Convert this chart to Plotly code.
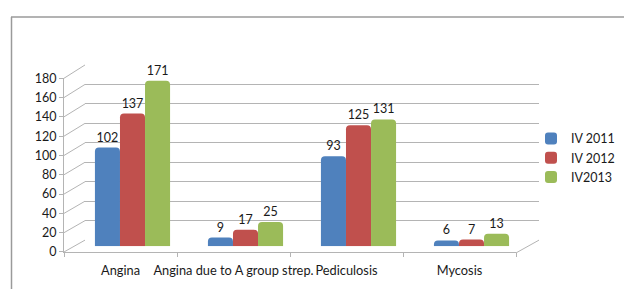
import plotly.graph_objects as go

# ---- data ----
categories = ["Angina", "Angina due to A group strep.", "Pediculosis", "Mycosis"]
iv_2011 = [102, 9, 93, 6]
iv_2012 = [137, 17, 125, 7]
iv_2013 = [171, 25, 131, 13]
series_names = ["IV 2011", "IV 2012", "IV2013"]
y_ticks = [0, 20, 40, 60, 80, 100, 120, 140, 160, 180]

# ---- geometry helpers (pixels -> paper) ----
W, H = 624, 296
def px(x):
    return x / W
def py(y):
    return 1 - y / H

FONT = "Lato"
TXT = "#1a1a1a"
GRID = "#b4b4b4"

colors = ["#4F81BD", "#C0504D", "#9BBB59"]
values = [iv_2011, iv_2012, iv_2013]

fig = go.Figure()
# empty helper traces so the back wall and front axes get drawn (drawn first, below bars)
fig.add_trace(go.Scatter(x=[], y=[], xaxis="x", yaxis="y", showlegend=False, hoverinfo="skip"))
fig.add_trace(go.Scatter(x=[], y=[], xaxis="x2", yaxis="y2", showlegend=False, hoverinfo="skip"))

for name, vals, col in zip(series_names, values, colors):
    fig.add_trace(go.Bar(
        x=categories, y=vals, name=name,
        marker=dict(color=col, line=dict(width=0), cornerradius=4),
        text=vals, textposition="outside", cliponaxis=False,
        textfont=dict(family=FONT, size=12.5, color=TXT),
        xaxis="x3", yaxis="y3",
    ))

# front (label) geometry
front_left, front_right = 64, 516
front_zero, front_top = 257, 74
# back wall geometry
back_left, back_right = 85, 539
back_zero, back_top = 244.5, 60
# mid-depth (bars)
mid_left, mid_right = 76, 528
mid_zero, mid_top = 251, 67.4

shapes = []
# left wall diagonals
for t in y_ticks:
    fy = front_zero - t * (front_zero - front_top) / 180
    by = back_zero - t * (back_zero - back_top) / 180
    shapes.append(dict(type="line", xref="paper", yref="paper", layer="below",
                       x0=px(front_left), y0=py(fy), x1=px(back_left), y1=py(by),
                       line=dict(color=GRID, width=1)))
# right floor edge
shapes.append(dict(type="line", xref="paper", yref="paper", layer="below",
                   x0=px(front_right), y0=py(front_zero + 1), x1=px(back_right), y1=py(back_zero),
                   line=dict(color=GRID, width=1)))
# outer border: top and left edges only (the frame continues past the picture)
shapes.append(dict(type="line", xref="paper", yref="paper",
                   x0=px(11), y0=py(9.5), x1=1.0, y1=py(9.5),
                   line=dict(color="#9a9a9a", width=1.5)))
shapes.append(dict(type="line", xref="paper", yref="paper",
                   x0=px(11.5), y0=py(9.5), x1=px(11.5), y1=0.0,
                   line=dict(color="#9a9a9a", width=1.5)))

fig.update_layout(
    width=W, height=H,
    margin=dict(l=0, r=0, t=0, b=0),
    paper_bgcolor="white", plot_bgcolor="rgba(0,0,0,0)",
    barmode="group", bargap=0.335, bargroupgap=0,
    font=dict(family=FONT, size=12, color=TXT),
    showlegend=True,
    legend=dict(x=px(531), y=py(158), xanchor="left", yanchor="middle",
                font=dict(family=FONT, size=12.5, color=TXT),
                bgcolor="rgba(0,0,0,0)", tracegroupgap=0),
    # back wall (gridlines)
    xaxis=dict(domain=[px(back_left), px(back_right)], anchor="y",
               type="linear", range=[0, 1], showgrid=False, showticklabels=False, ticks="",
               zeroline=False, showline=False),
    yaxis=dict(domain=[py(back_zero), py(back_top)], anchor="x",
               type="linear", range=[0, 180], tickmode="array", tickvals=y_ticks,
               showgrid=True, gridcolor=GRID, gridwidth=1,
               showticklabels=False, ticks="", zeroline=False, showline=False),
    # front axes (labels)
    xaxis2=dict(domain=[px(front_left), px(front_right)], anchor="y2",
                type="linear", range=[-0.5, 3.5], tickmode="array", tickvals=[0, 1, 2, 3],
                ticktext=categories, tickangle=0, ticks="", showgrid=False,
                showline=True, linecolor=GRID, linewidth=1, zeroline=False,
                ticklabelstandoff=7,
                tickfont=dict(family=FONT, size=12.8, color=TXT),
                minor=dict(tickmode="array", tickvals=[-0.5, 0.5, 1.5, 2.5, 3.5],
                           ticks="outside", ticklen=4, tickcolor=GRID, showgrid=False)),
    yaxis2=dict(domain=[py(front_zero), py(front_top)], anchor="x2",
                type="linear", range=[0, 180], tickmode="array", tickvals=y_ticks,
                showgrid=False, zeroline=False, showline=True, linecolor=GRID,
                ticks="outside", ticklen=4, tickcolor=GRID,
                tickfont=dict(family=FONT, size=12.5, color=TXT)),
    # bars axes (mid depth)
    xaxis3=dict(domain=[px(mid_left), px(mid_right)], anchor="y3",
                visible=False, range=[-0.5, 3.5], type="category"),
    yaxis3=dict(domain=[py(mid_zero), py(mid_top)], anchor="x3",
                visible=False, range=[0, 180]),
    shapes=shapes,
)

fig.write_html("out.html", config={"displayModeBar": False},
               post_script="document.body.style.margin='0';")
